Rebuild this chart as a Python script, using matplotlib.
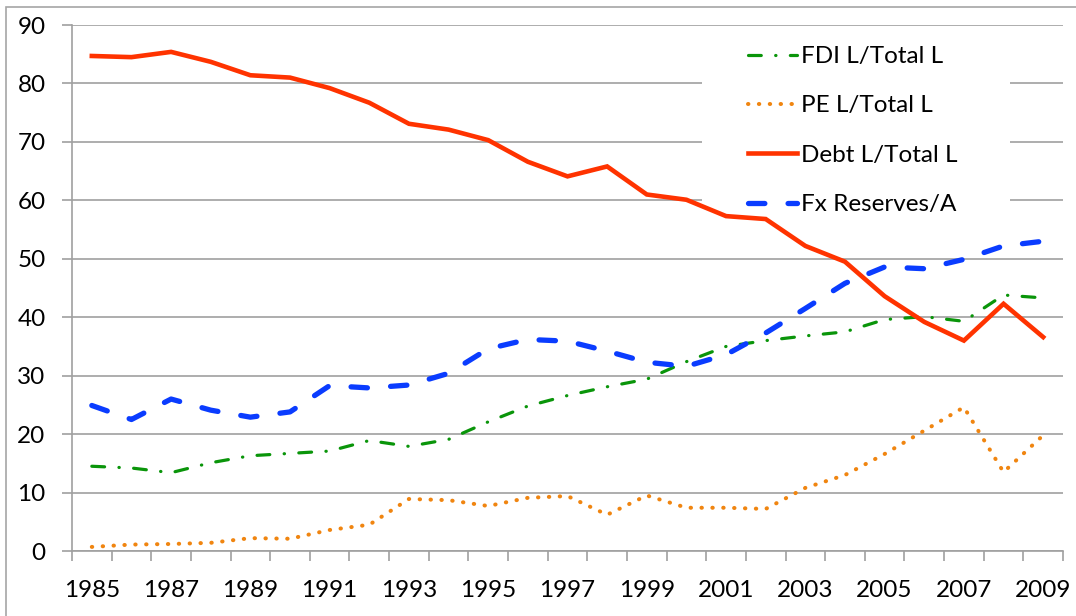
import matplotlib
matplotlib.use("Agg")
import matplotlib.pyplot as plt
from matplotlib.patches import Rectangle

years = list(range(1985, 2010))

fdi = [14.5, 14.2, 13.4, 15.1, 16.3, 16.7, 17.1, 18.9, 17.9, 19.1, 22.1, 24.8,
       26.6, 28.1, 29.4, 32.4, 35.0, 36.0, 36.8, 37.5, 39.6, 40.1, 39.3, 43.8, 43.3]
pe = [0.7, 1.1, 1.2, 1.4, 2.2, 2.1, 3.6, 4.5, 8.9, 8.7, 7.7, 9.1,
      9.4, 6.2, 9.5, 7.4, 7.4, 7.2, 10.8, 13.0, 16.6, 20.6, 24.6, 13.5, 19.8]
debt = [84.7, 84.5, 85.4, 83.7, 81.4, 81.0, 79.2, 76.7, 73.1, 72.1, 70.3, 66.6,
        64.1, 65.8, 61.0, 60.1, 57.3, 56.8, 52.2, 49.5, 43.6, 39.2, 36.0, 42.3, 36.6]
fx = [24.9, 22.5, 26.0, 24.1, 22.9, 23.8, 28.3, 27.9, 28.4, 30.4, 34.6, 36.2,
      35.9, 34.2, 32.3, 31.6, 33.6, 37.3, 41.5, 45.8, 48.6, 48.3, 49.9, 52.2, 53.0]

labels = ["FDI L/Total L", "PE L/Total L", "Debt L/Total L", "Fx Reserves/A"]

plt.rcParams['font.family'] = ['Lato', 'DejaVu Sans']

fig = plt.figure(figsize=(10.76, 6.16), dpi=100)
ax = fig.add_axes([72 / 1076, 1 - 551 / 616, (1063 - 72) / 1076, (551 - 25) / 616])

# chart border
fig.patches.append(Rectangle((6 / 1076, -0.1), 1.2, 1 - 7 / 616 + 0.1,
                             transform=fig.transFigure, fill=False,
                             edgecolor="#a6a6a6", linewidth=1.2))

x = list(range(len(years)))
grey = "#a0a0a0"

ax.plot(x, fdi, color="#0a950a", lw=2.3, dashes=(4, 4.5, 0.1, 4.5),
        dash_capstyle="round", label=labels[0], zorder=4)
ax.plot(x, pe, color="#f08510", lw=2.9, dashes=(0.1, 2.6),
        dash_capstyle="round", label=labels[1], zorder=4)
ax.plot(x, debt, color="#ff3300", lw=3.3, solid_joinstyle="miter",
        label=labels[2], zorder=4)
ax.plot(x, fx, color="#0a3cff", lw=3.8, dashes=(3.1, 4.4),
        dash_capstyle="round", label=labels[3], zorder=4)

ax.set_xlim(-0.5, len(years) - 0.5)
ax.set_ylim(0, 90)
ax.set_yticks(range(0, 91, 10))
ax.yaxis.grid(True, color=grey, linewidth=1.2, zorder=0)
ax.set_axisbelow(True)

ax.set_xticks(x[::2])
ax.set_xticklabels([str(y) for y in years[::2]])
ax.set_xticks([i - 0.5 for i in range(len(years) + 1)], minor=True)
ax.tick_params(axis="x", which="major", length=0, pad=21, labelsize=17.5)
ax.tick_params(axis="x", which="minor", length=7, width=1.2, color=grey)
ax.tick_params(axis="y", length=7, width=1.2, color=grey, pad=12, labelsize=17.5)

for s in ["top", "right"]:
    ax.spines[s].set_visible(False)
for s in ["left", "bottom"]:
    ax.spines[s].set_color(grey)
    ax.spines[s].set_linewidth(1.2)

# white box behind legend
ax.add_patch(Rectangle((0.636, 0.61), 0.3105, 0.38, transform=ax.transAxes,
                       facecolor="white", edgecolor="none", zorder=2))

leg = ax.legend(loc="upper left", bbox_to_anchor=(748 / 1076, 1 - 46 / 616),
                bbox_transform=fig.transFigure, frameon=False, fontsize=17.5,
                handlelength=2.0, handletextpad=0.2, labelspacing=1.17,
                borderpad=0, borderaxespad=0)
leg.set_zorder(5)

fig.savefig("out.png", dpi=100)
